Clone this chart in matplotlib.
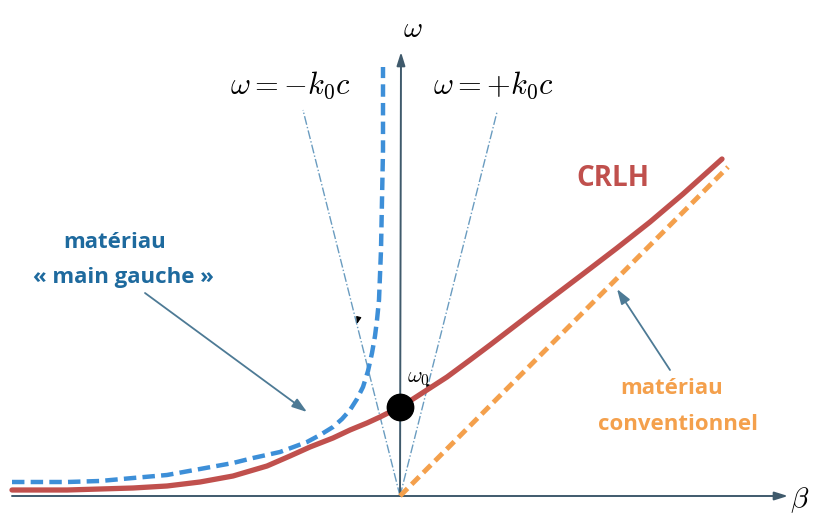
import matplotlib
matplotlib.use("Agg")
import matplotlib.pyplot as plt
import numpy as np

plt.rcParams['mathtext.fontset'] = 'cm'

# ---- data (beta, omega) in arbitrary units, origin at axes crossing ----
lh_beta = [-388, -333, -300, -267, -233, -200, -167, -147, -120, -93, -80, -67, -58, -50, -43, -37, -32, -28, -25, -23, -21, -19, -18, -17, -17]
lh_omega = [14, 14, 15, 18, 21, 27, 33, 38, 44, 54, 61, 69, 77, 86, 97, 109, 125, 143, 160, 176, 196, 246, 296, 346, 429]

crlh_beta = [-388, -333, -300, -267, -233, -200, -167, -150, -133, -110, -90, -67, -50, -33, -20, -8, 0, 13, 30, 47, 70, 90, 120, 150, 183, 217, 250, 283, 322]
crlh_omega = [6, 6, 7, 8, 10, 14, 20, 25, 30, 40, 49, 58, 66, 73, 79, 85, 89, 97, 108, 119, 136, 151, 174, 197, 222, 248, 274, 302, 337]

conv_beta = [0, 328]
conv_omega = [0, 329]

light_left_beta = [0, -97]
light_left_omega = [0, 386]
light_right_beta = [0, 97]
light_right_omega = [0, 384]

omega0 = 89

fig = plt.figure(figsize=(8.16, 5.15), dpi=100)
ax = fig.add_axes([0, 0, 1, 1])
ax.set_xlim(-400, 416)
ax.set_ylim(-19, 496)
ax.axis('off')

axis_col = '#3f5a6c'
# axes with arrows
ax.annotate('', xy=(388, 0), xytext=(-388, 0),
            arrowprops=dict(arrowstyle='-|>,head_length=0.8,head_width=0.25', color=axis_col, lw=1.4,
                            shrinkA=0, shrinkB=0))
ax.annotate('', xy=(1, 444), xytext=(0, 0),
            arrowprops=dict(arrowstyle='-|>,head_length=0.8,head_width=0.25', color=axis_col, lw=1.4,
                            shrinkA=0, shrinkB=0))

# light lines
ax.plot(light_left_beta, light_left_omega, color='#6a9cc0', lw=1.0, ls='-.')
ax.plot(light_right_beta, light_right_omega, color='#6a9cc0', lw=1.0, ls='-.')
# small arrowheads on light lines
ax.annotate('', xy=(-43, 172), xytext=(-41.5, 178),
            arrowprops=dict(arrowstyle='-|>,head_length=0.4,head_width=0.15', color='black', lw=0.8,
                            shrinkA=0, shrinkB=0))
ax.annotate('', xy=(27, 104), xytext=(28.5, 110),
            arrowprops=dict(arrowstyle='-|>,head_length=0.4,head_width=0.15', color='black', lw=0.8,
                            shrinkA=0, shrinkB=0))

# conventional material
ax.plot(conv_beta, conv_omega, color='#F4A04C', lw=3.5, ls=(0, (2.2, 1.2)), zorder=3)
# left-handed
ax.plot(lh_beta, lh_omega, color='#3D8FD8', lw=3.2, ls=(0, (2.8, 1.4)), zorder=3)
# CRLH
ax.plot(crlh_beta, crlh_omega, color='#C0504D', lw=3.8, solid_capstyle='round',
        solid_joinstyle='round', zorder=4)
# omega0 dot
ax.plot([0], [omega0], 'o', color='black', ms=19, zorder=5)

# annotation arrows
ax.annotate('', xy=(-93, 84), xytext=(-255, 203),
            arrowprops=dict(arrowstyle='-|>,head_length=0.9,head_width=0.3', color='#4d7a95', lw=1.3,
                            shrinkA=0, shrinkB=0))
ax.annotate('', xy=(217, 207), xytext=(270, 126),
            arrowprops=dict(arrowstyle='-|>,head_length=0.9,head_width=0.3', color='#4d7a95', lw=1.3,
                            shrinkA=0, shrinkB=0))

# texts
ax.text(13, 467, r'$\omega$', fontsize=21, ha='center', va='center')
ax.text(400, -4, r'$\beta$', fontsize=21, ha='center', va='center')
ax.text(-110, 411, r'$\omega = -k_0 c$', fontsize=22, ha='center', va='center')
ax.text(93, 411, r'$\omega = +k_0 c$', fontsize=22, ha='center', va='center')
ax.text(18, 118, r'$\omega_0$', fontsize=16, ha='center', va='center')

ax.text(213, 318, 'CRLH', fontsize=20, fontweight='bold', color='#C0504D',
        family='Open Sans', ha='center', va='center')
ax.text(-285, 254, 'matériau', fontsize=16, fontweight='bold', color='#1E6A9E',
        family='Open Sans', ha='center', va='center')
ax.text(-277, 218, '« main gauche »', fontsize=16, fontweight='bold', color='#1E6A9E',
        family='Open Sans', ha='center', va='center')
ax.text(272, 108, 'matériau', fontsize=16, fontweight='bold', color='#F4A04C',
        family='Open Sans', ha='center', va='center')
ax.text(278, 71, 'conventionnel', fontsize=16, fontweight='bold', color='#F4A04C',
        family='Open Sans', ha='center', va='center')

fig.savefig('out.png', dpi=100)
